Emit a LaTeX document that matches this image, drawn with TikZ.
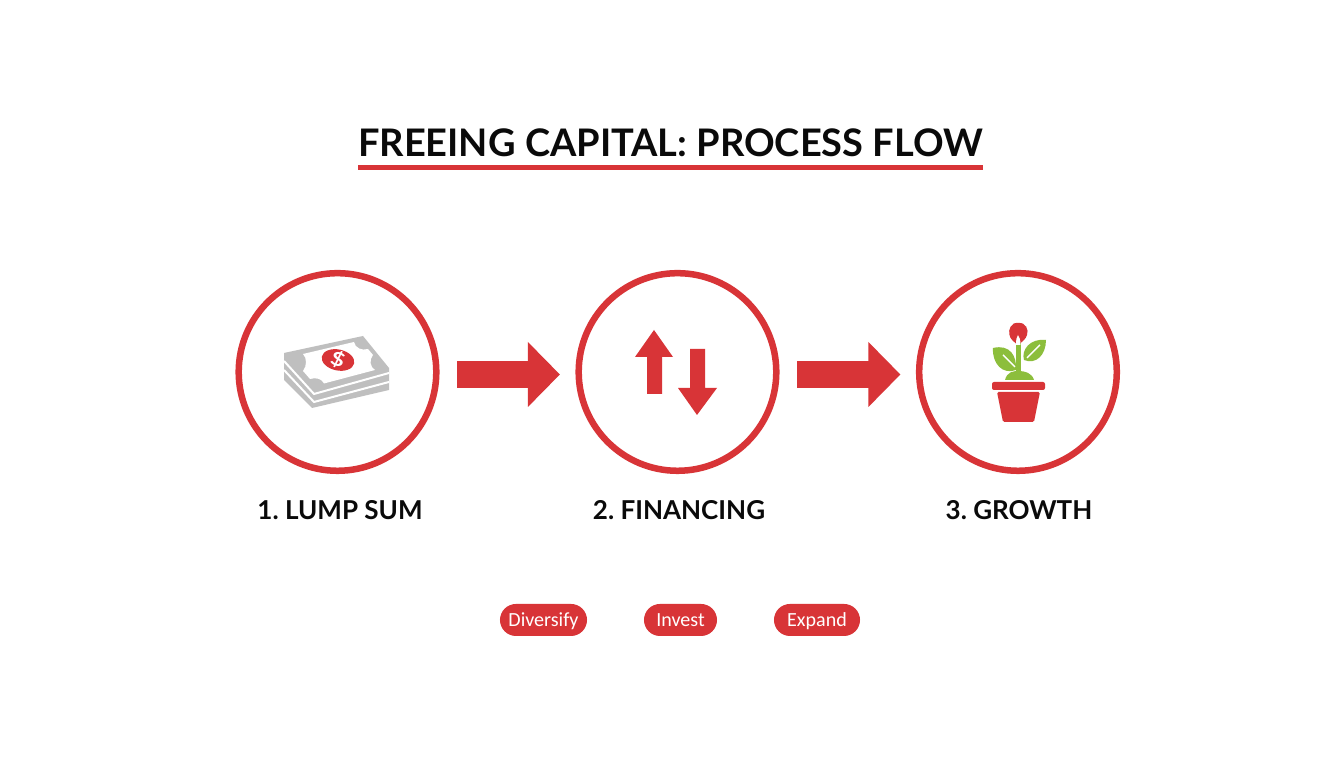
\documentclass[tikz,border=0pt]{standalone}
\usepackage{fontspec}
\setmainfont{Lato}
\newfontfamily\tagfont{Carlito}
\usepackage{tikz}
\usetikzlibrary{arrows.meta}
\definecolor{capred}{HTML}{D83437}
\definecolor{capgreen}{HTML}{8CBE3C}
\definecolor{capgray}{HTML}{BFBFBF}
\definecolor{capink}{HTML}{0A0A0A}
\frenchspacing
\tikzset{
  stepring/.style={circle,draw=capred,line width=0.065cm,minimum size=1.975cm,inner sep=0pt},
  steplabel/.style={text=capink,font=\fontsize{7.4}{9}\selectfont\bfseries,inner sep=0pt},
  pill/.style={fill=capred,text=white,rounded corners=0.16cm,minimum height=0.32cm,inner sep=0pt,text height=4.6pt,text depth=0.9pt,font=\tagfont\fontsize{5.7}{7}\selectfont},
  flowarrow/.style={capred,line width=0.27cm,-{Triangle[length=0.32cm,width=0.63cm]},shorten <=0.175cm,shorten >=0.155cm}
}
\begin{document}
\begin{tikzpicture}[x=0.01cm,y=-0.01cm]
        \useasboundingbox[fill=white] (0,0) rectangle (1344,768);
        % heading
        \node[text=capink,inner sep=0pt,font=\fontsize{10.8}{13}\selectfont\bfseries] (title) at (670.5,143) {FREEING CAPITAL: PROCESS FLOW};
        \fill[capred] (358,165) rectangle (983,170.5);
        % rings
        \node[stepring] (lump) at (337.5,372) {};
        \node[stepring] (fin) at (677.5,372) {};
        \node[stepring] (grow) at (1018,372) {};
        \draw[flowarrow] ([yshift=-0.025cm]lump.east) -- ([yshift=-0.025cm]fin.west);
        \draw[flowarrow] ([yshift=-0.025cm]fin.east) -- ([yshift=-0.025cm]grow.west);
        % banknotes
        \fill[capgray] (284,353) -- (363,336) -- (389,368) -- (389,390) -- (312,408) -- (284,380) -- cycle;
        \draw[white,line width=0.02cm] (284,361) -- (314,394) -- (389,373);
        \draw[white,line width=0.02cm] (284,370) -- (314,402) -- (389,382);
        \fill[white] (303,354) -- (354,342) .. controls (355,348) and (362,351) .. (368,349) -- (373,355) .. controls (369,360) and (370,367) .. (375,370) -- (324,383.5) .. controls (322,379) and (316,377) .. (310,379) -- (303,371) .. controls (307,366) and (307,358) .. (303,354) -- cycle;
        \fill[capred,rotate around={-12:(338,360)}] (338,360) ellipse [x radius=16.5,y radius=10.5];
        \node[text=white,inner sep=0pt,rotate=-20,xscale=1.25,transform shape,font=\fontsize{5.4}{7}\selectfont\bfseries] (dollar) at (338,360) {\$};
        % up and down arrows
        \fill[capred] (654,330) -- (673,357) -- (662,357) -- (662,394) -- (647,394) -- (647,357) -- (635,357) -- cycle;
        \fill[capred] (690,349) -- (705,349) -- (705,388) -- (717,388) -- (697,415) -- (678,388) -- (690,388) -- cycle;
        % plant
        \fill[capgreen] (1005,380) .. controls (1007,372) and (1013,371) .. (1018.5,371) .. controls (1025,371) and (1032,373) .. (1034,380) -- cycle;
        \fill[capgreen] (1016,343) rectangle (1021,375);
        \fill[capgreen] (993,348) .. controls (1010,344) and (1017,356) .. (1016,370) .. controls (1003,375) and (992,364) .. (993,348) -- cycle;
        \fill[capgreen] (1046,340) .. controls (1046,355) and (1036,365) .. (1024,360) .. controls (1021,350) and (1030,338) .. (1046,340) -- cycle;
        \draw[white,line width=0.014cm] (1003,355) -- (1015,367);
        \draw[white,line width=0.014cm] (1040,345) -- (1027,358);
        \fill[capred] (1018,323) .. controls (1026,322) and (1029,330) .. (1027,335) .. controls (1026,339) and (1022,342) .. (1018,345) .. controls (1014,342) and (1010,339) .. (1009.5,335) .. controls (1008,330) and (1011,322) .. (1018,323) -- cycle;
        \fill[white] (1018,335) .. controls (1019.5,337) and (1020.5,340) .. (1020.5,345) -- (1016,345) .. controls (1016,340) and (1016.5,337) .. (1018,335) -- cycle;
        \fill[capred,rounded corners=0.02cm] (992,382) rectangle (1045,390);
        \fill[capred,rounded corners=0.015cm] (997,392) -- (1040,392) -- (1034,422) -- (1003,422) -- cycle;
        % step names
        \node[steplabel] (lumplabel) at (340,510) {1. LUMP SUM};
        \node[steplabel] (finlabel) at (679,510) {2. FINANCING};
        \node[steplabel] (growlabel) at (1019,510) {3. GROWTH};
        % tags
        \node[pill,minimum width=0.87cm] (diversify) at (543.5,620) {Diversify};
        \node[pill,minimum width=0.73cm] (invest) at (680.5,620) {Invest};
        \node[pill,minimum width=0.86cm] (expand) at (817,620) {Expand};
\end{tikzpicture}
\end{document}
